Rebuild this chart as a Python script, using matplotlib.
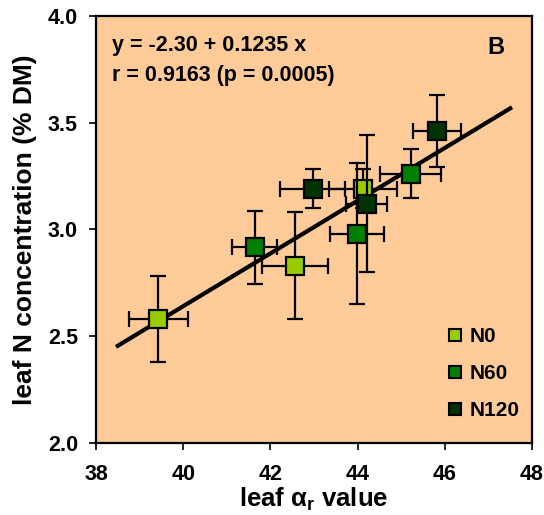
import matplotlib
matplotlib.use("Agg")
import matplotlib.pyplot as plt
from matplotlib.lines import Line2D
import numpy as np

plt.rcParams['font.family'] = ['Liberation Sans', 'DejaVu Sans']
plt.rcParams['font.weight'] = 'bold'
plt.rcParams['mathtext.fontset'] = 'custom'
plt.rcParams['mathtext.rm'] = 'Liberation Sans:bold'
plt.rcParams['mathtext.it'] = 'Liberation Sans:bold'
plt.rcParams['mathtext.bf'] = 'Liberation Sans:bold'

# data
treatments = ["N0", "N60", "N120"]
colors = {"N0": "#99CC00", "N60": "#008000", "N120": "#003300"}

n0_x = [39.43, 42.56, 44.12]
n0_y = [2.58, 2.83, 3.19]
n0_xerr = [0.68, 0.76, 0.78]
n0_yerr = [0.20, 0.25, 0.09]

n60_x = [41.64, 43.98, 45.22]
n60_y = [2.915, 2.98, 3.26]
n60_xerr = [0.52, 0.62, 0.70]
n60_yerr = [0.17, 0.33, 0.115]

n120_x = [42.97, 44.21, 45.81]
n120_y = [3.19, 3.12, 3.46]
n120_xerr = [0.75, 0.47, 0.55]
n120_yerr = [0.09, 0.32, 0.17]

intercept = -2.30
slope = 0.1235
fit_x = [38.5, 47.5]

x_ticks = [38, 40, 42, 44, 46, 48]
y_ticks = [2.0, 2.5, 3.0, 3.5, 4.0]

fig = plt.figure(figsize=(5.44, 5.15), dpi=100)
ax = fig.add_axes([0.1765, 0.14, 0.8015, 0.8295])
ax.set_facecolor("#FFCC99")

fx = np.array(fit_x)
ax.plot(fx, intercept + slope * fx, color="black", lw=3.0, zorder=2)

series = [("N0", n0_x, n0_y, n0_xerr, n0_yerr),
          ("N60", n60_x, n60_y, n60_xerr, n60_yerr),
          ("N120", n120_x, n120_y, n120_xerr, n120_yerr)]
for i, (name, xs, ys, xe, ye) in enumerate(series):
    ax.errorbar(xs, ys, xerr=xe, yerr=ye, fmt="none", ecolor="black",
                elinewidth=1.6, capsize=5.5, capthick=1.6, zorder=3 + i)
    ax.plot(xs, ys, "s", color=colors[name], markeredgecolor="black",
            markeredgewidth=1.6, markersize=13.5, zorder=3.5 + i, linestyle="none")

ax.set_xlim(38, 48)
ax.set_ylim(2.0, 4.0)
ax.set_xticks(x_ticks)
ax.set_yticks(y_ticks)
ax.set_xticklabels([str(v) for v in x_ticks])
ax.set_yticklabels([f"{v:.1f}" for v in y_ticks])
ax.tick_params(direction="out", length=5, width=1.2, labelsize=15.5)
ax.tick_params(axis="x", pad=10.5)
ax.tick_params(axis="y", pad=8)
for s in ax.spines.values():
    s.set_linewidth(1.6)

ax.set_xlabel(r"leaf $\alpha_\mathregular{r}$ value", fontsize=18.5, fontweight="bold", labelpad=0)
ax.set_ylabel("leaf N concentration (% DM)", fontsize=19, fontweight="bold", labelpad=8)

ax.text(0.037, 0.931, "y = -2.30 + 0.1235 x", transform=ax.transAxes,
        fontsize=15.5, fontweight="bold", va="center", ha="left")
ax.text(0.037, 0.861, "r = 0.9163 (p = 0.0005)", transform=ax.transAxes,
        fontsize=15.5, fontweight="bold", va="center", ha="left")
ax.text(0.938, 0.926, "B", transform=ax.transAxes,
        fontsize=17, fontweight="bold", va="center", ha="right")

handles = [Line2D([0], [0], marker="s", color="none", markerfacecolor=colors[t],
                  markeredgecolor="black", markeredgewidth=1.5, markersize=8)
           for t in treatments]
leg = ax.legend(handles, treatments, loc="lower right", frameon=False,
                fontsize=15, handlelength=0.8, handletextpad=0.3,
                labelspacing=0.85, bbox_to_anchor=(1.015, 0.01))

fig.savefig("out.png", dpi=100)
